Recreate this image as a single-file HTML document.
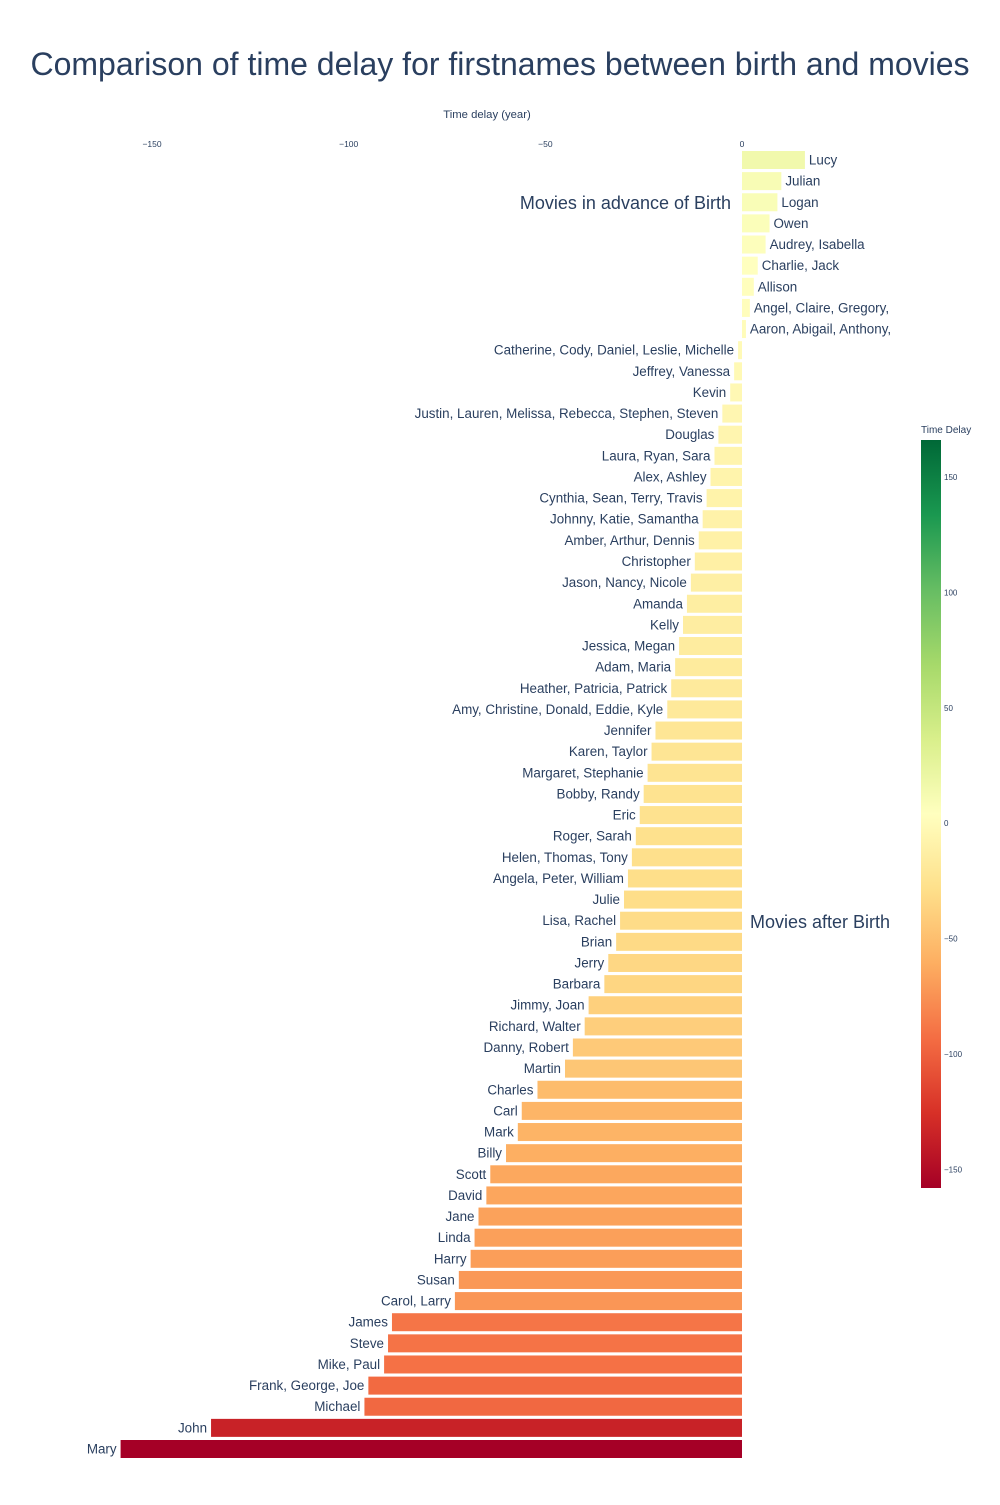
<!DOCTYPE html>
<html><head><meta charset="utf-8"><style>
body{margin:0;background:#fff;}
svg{font-family:"Liberation Sans",Arial,sans-serif;}
</style></head><body>
<svg id="chart" width="1000" height="1500" xmlns="http://www.w3.org/2000/svg">
<rect width="1000" height="1500" fill="#fff"/>
<text x="500" y="75" text-anchor="middle" font-size="32" fill="#2a3f5f">Comparison of time delay for firstnames between birth and movies</text>
<text x="487" y="118" text-anchor="middle" font-size="11.3" fill="#2a3f5f">Time delay (year)</text>
<g id="xticks"></g>
<g id="bars"></g>
<text x="731" y="209" text-anchor="end" font-size="18" fill="#2a3f5f">Movies in advance of Birth</text>
<text x="750" y="928" font-size="18" fill="#2a3f5f">Movies after Birth</text>
<g id="cbar"></g>
</svg>
<script>
const categories=["Lucy","Julian","Logan","Owen","Audrey, Isabella","Charlie, Jack","Allison","Angel, Claire, Gregory,","Aaron, Abigail, Anthony,","Catherine, Cody, Daniel, Leslie, Michelle","Jeffrey, Vanessa","Kevin","Justin, Lauren, Melissa, Rebecca, Stephen, Steven","Douglas","Laura, Ryan, Sara","Alex, Ashley","Cynthia, Sean, Terry, Travis","Johnny, Katie, Samantha","Amber, Arthur, Dennis","Christopher","Jason, Nancy, Nicole","Amanda","Kelly","Jessica, Megan","Adam, Maria","Heather, Patricia, Patrick","Amy, Christine, Donald, Eddie, Kyle","Jennifer","Karen, Taylor","Margaret, Stephanie","Bobby, Randy","Eric","Roger, Sarah","Helen, Thomas, Tony","Angela, Peter, William","Julie","Lisa, Rachel","Brian","Jerry","Barbara","Jimmy, Joan","Richard, Walter","Danny, Robert","Martin","Charles","Carl","Mark","Billy","Scott","David","Jane","Linda","Harry","Susan","Carol, Larry","James","Steve","Mike, Paul","Frank, George, Joe","Michael","John","Mary"];
const values=[16,10,9,7,6,4,3,2,1,-1,-2,-3,-5,-6,-7,-8,-9,-10,-11,-12,-13,-14,-15,-16,-17,-18,-19,-22,-23,-24,-25,-26,-27,-28,-29,-30,-31,-32,-34,-35,-39,-40,-43,-45,-52,-56,-57,-60,-64,-65,-67,-68,-69,-72,-73,-89,-90,-91,-95,-96,-135,-158];
const xTicks=[-150,-100,-50,0];
const cbTicks=[150,100,50,0,-50,-100,-150];
const cmin=-158,cmax=166;
const NS="http://www.w3.org/2000/svg";
const x=v=>742+v*3.933;
const y=i=>160+i*(1449-160)/(categories.length-1);
const stops=[[165,0,38],[215,48,39],[244,109,67],[253,174,97],[254,224,139],[255,255,191],[217,239,139],[166,217,106],[102,189,99],[26,152,80],[0,104,55]];
function col(v){let t=(v-cmin)/(cmax-cmin);t=Math.max(0,Math.min(1,t))*10;const i=Math.min(9,Math.floor(t)),f=t-i;const a=stops[i],b=stops[i+1];return `rgb(${a.map((c,k)=>Math.round(c+(b[k]-c)*f)).join(',')})`;}
function mk(tag,attrs,p){const e=document.createElementNS(NS,tag);for(const k in attrs)e.setAttribute(k,attrs[k]);p.appendChild(e);return e;}
const xt=document.getElementById('xticks');
xTicks.forEach(v=>{const t=mk('text',{x:x(v),y:147,'text-anchor':'middle','font-size':8.5,fill:'#2a3f5f'},xt);t.textContent=v<0?'\u2212'+(-v):v;

});
const bg=document.getElementById('bars');
categories.forEach((c,i)=>{const v=values[i];const x0=Math.min(x(0),x(v)),w=Math.abs(x(v)-x(0));
const r=mk('rect',{x:x0,y:y(i)-9,width:w,height:18,fill:col(v)},bg);


const t=mk('text',{x:v>=0?x(v)+4:x(v)-4,y:y(i)+4.5,'text-anchor':v>=0?'start':'end','font-size':13.4,fill:'#2a3f5f'},bg);t.textContent=c;

});
const cb=document.getElementById('cbar');
const cy=v=>440+(cmax-v)*(1188-440)/(cmax-cmin);
const defs=mk('defs',{},cb);const g=mk('linearGradient',{id:'cg',x1:0,y1:1,x2:0,y2:0},defs);
stops.forEach((s,k)=>mk('stop',{offset:k/10,'stop-color':`rgb(${s.join(',')})`},g));
const cr=mk('rect',{x:921,y:440,width:20,height:748,fill:'url(#cg)'},cb);


const ct=mk('text',{x:921,y:433,'font-size':10,fill:'#2a3f5f'},cb);ct.textContent='Time Delay';


cbTicks.forEach(v=>{const t=mk('text',{x:944,y:cy(v)+3,'font-size':8,fill:'#2a3f5f'},cb);t.textContent=v<0?'\u2212'+(-v):v;

});
</script>
</body></html>
